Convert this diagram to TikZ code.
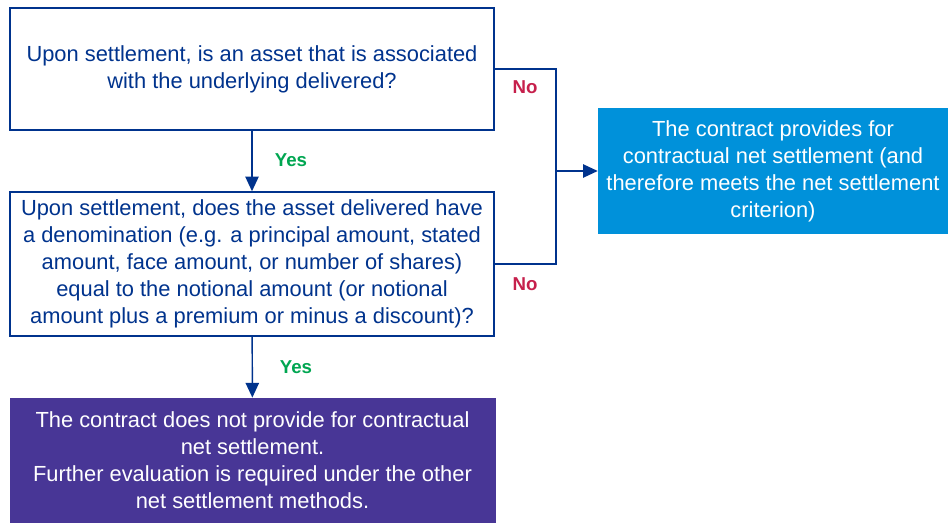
\documentclass[tikz,border=0pt]{standalone}
\usepackage{fontspec}
\setmainfont{Liberation Sans}
\usepackage{tikz}
\usetikzlibrary{arrows.meta, positioning, calc}
\definecolor{kblue}{RGB}{0,51,141}
\definecolor{kcyan}{RGB}{0,145,218}
\definecolor{kpurple}{RGB}{72,54,150}
\definecolor{kgreen}{RGB}{0,166,81}
\definecolor{kred}{RGB}{198,32,76}

\begin{document}
\begin{tikzpicture}[x=0.75pt, y=-0.75pt,
        qbox/.style={draw=kblue, line width=1.1pt, fill=white, text=kblue, align=center,
            font=\fontsize{16.4}{20.3}\selectfont, inner sep=0pt},
        endbox/.style={fill=#1, text=white, align=center,
            font=\fontsize{16.4}{20.3}\selectfont, inner sep=0pt},
        link/.style={draw=kblue, line width=1.1pt},
        yes/.style={text=kgreen, font=\fontsize{14}{16}\selectfont\bfseries},
        no/.style={text=kred, font=\fontsize{14}{16}\selectfont\bfseries}]
        \useasboundingbox (0,0) rectangle (948,523);
        \node[qbox, minimum width=363pt, minimum height=91.5pt] (asset) at (252,69)
            {Upon settlement, is an asset that is associated\\with the underlying delivered?};
        \node[qbox, minimum width=363pt, minimum height=108pt] (denom) at (252,264)
            {Upon settlement, does the asset delivered have\\a denomination (e.g. a principal amount, stated\\amount, face amount, or number of shares)\\equal to the notional amount (or notional\\amount plus a premium or minus a discount)?};
        \node[endbox=kpurple, minimum width=364.5pt, minimum height=94pt] (nonet) at (252.5,460.5)
            {The contract does not provide for contractual\\net settlement.\\Further evaluation is required under the other\\net settlement methods.};
        \node[endbox=kcyan, minimum width=262.5pt, minimum height=94.5pt] (net) at (773,171)
            {The contract provides for\\contractual net settlement (and\\therefore meets the net settlement\\criterion)};
        \coordinate (join) at (556,171);
        \draw[link, -{Triangle[length=11pt, width=10pt]}] (asset) -- (denom);
        \draw[link, -{Triangle[length=11pt, width=10pt]}] (denom) -- (nonet);
        \draw[link] (asset.east) -| (join);
        \draw[link] (denom.east) -| (join);
        \draw[link, -{Triangle[length=11pt, width=10pt]}] (join) -- (net.west);
        \node[yes] (yes1) at (291,160) {Yes};
        \node[yes] (yes2) at (296,367) {Yes};
        \node[no] (no1) at (525,87) {No};
        \node[no] (no2) at (525,284) {No};
    \end{tikzpicture}
\end{document}
